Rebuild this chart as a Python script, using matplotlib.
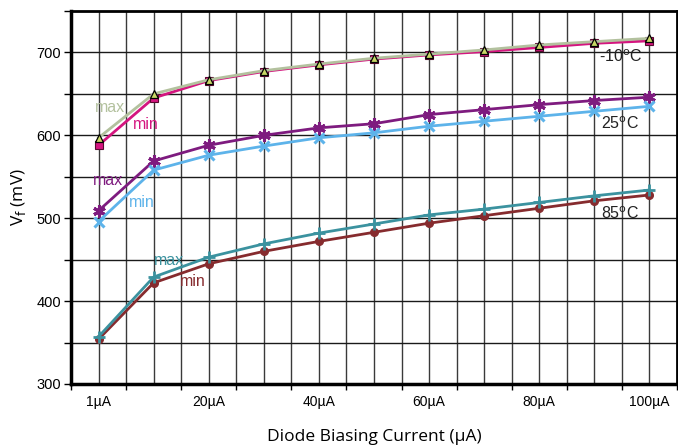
import matplotlib
matplotlib.use("Agg")
import matplotlib.pyplot as plt
import numpy as np

categories = ["1", "10", "20", "30", "40", "50", "60", "70", "80", "90", "100"]
tick_labels = ["1µA", "20µA", "40µA", "60µA", "80µA", "100µA"]
tick_cats = ["1", "20", "40", "60", "80", "100"]

m10_max = [597, 650, 667, 678, 686, 693, 698, 703, 709, 713, 717]
m10_min = [588, 645, 666, 677, 685, 692, 697, 701, 706, 711, 714]
p25_max = [509, 569, 588, 600, 609, 614, 625, 631, 637, 642, 646]
p25_min = [496, 558, 576, 587, 597, 603, 611, 617, 623, 629, 635]
t85_max = [357, 429, 453, 469, 482, 493, 504, 511, 519, 527, 534]
t85_min = [354, 422, 445, 460, 472, 483, 494, 503, 512, 521, 528]

fig = plt.figure(figsize=(6.78, 4.47), dpi=100)
ax = fig.add_axes([0.1047, 0.141, 0.8938, 0.8344])

x = np.arange(len(categories))

c_m10max = "#b3c19e"
c_m10min = "#d4157f"
c_p25max = "#7e1b7f"
c_p25min = "#5db3ea"
c_t85max = "#3b929f"
c_t85min = "#862b2e"

ax.plot(x, m10_min, color=c_m10min, lw=2, marker="s", ms=5.5,
        mfc=c_m10min, mec="#5a0a30", mew=0.8, zorder=5)
ax.plot(x, m10_max, color=c_m10max, lw=2, marker="^", ms=6,
        mfc="#c8d866", mec="black", mew=0.9, zorder=6)
ax.plot(x, p25_max, color=c_p25max, lw=2, marker=(6, 2, 0), ms=9,
        mec=c_p25max, mew=2.2, zorder=5)
ax.plot(x, p25_min, color=c_p25min, lw=2, marker="x", ms=7,
        mec=c_p25min, mew=2.2, zorder=5)
ax.plot(x, t85_min, color=c_t85min, lw=2, marker="o", ms=5.5,
        mfc=c_t85min, mec=c_t85min, zorder=5)
ax.plot(x, t85_max, color=c_t85max, lw=2, marker="+", ms=8,
        mec=c_t85max, mew=2, zorder=6)

lab_font = dict(fontsize=11.5, family="Liberation Sans")
ax.text(0.2, 633, "max", color=c_m10max, ha="center", va="center", **lab_font)
ax.text(0.85, 613, "min", color=c_m10min, ha="center", va="center", **lab_font)
ax.text(0.18, 546, "max", color=c_p25max, ha="center", va="center", **lab_font)
ax.text(0.78, 519, "min", color=c_p25min, ha="center", va="center", **lab_font)
ax.text(1.27, 449, "max", color=c_t85max, ha="center", va="center", **lab_font)
ax.text(1.72, 424, "min", color=c_t85min, ha="center", va="center", **lab_font)
ax.text(9.47, 695, r"-10$^{\mathrm{o}}$C", color="#222222", ha="center", va="center", **lab_font)
ax.text(9.47, 614, r"25$^{\mathrm{o}}$C", color="#222222", ha="center", va="center", **lab_font)
ax.text(9.47, 505, r"85$^{\mathrm{o}}$C", color="#222222", ha="center", va="center", **lab_font)

ax.set_xlim(-0.5, 10.5)
ax.set_ylim(300, 750)

ax.set_xticks([categories.index(c) for c in tick_cats])
ax.set_xticklabels(tick_labels, fontsize=10, family="Liberation Sans")
ax.set_xticks(np.arange(-0.5, 10.51, 1.0), minor=True)
ax.tick_params(axis="x", which="major", length=0, pad=8)
ax.tick_params(axis="x", which="minor", length=4, width=1, direction="out")

ax.set_yticks([300, 400, 500, 600, 700])
ax.set_yticklabels(["300", "400", "500", "600", "700"], fontsize=10.5,
                   family="Liberation Sans")
ax.set_yticks(np.arange(350, 751, 100), minor=True)
ax.tick_params(axis="y", which="both", length=5, width=1, direction="out", pad=2)

for v in np.arange(-0.5, 10.51, 0.5):
    ax.axvline(v, color="#3a3a3a", lw=1, zorder=1)
for h in np.arange(350, 750, 50):
    ax.axhline(h, color="#1a1a1a", lw=1, zorder=1)

for s in ax.spines.values():
    s.set_linewidth(2)
    s.set_color("black")
ax.spines["left"].set_linewidth(2.5)
ax.spines["bottom"].set_linewidth(2.5)

ax.set_xlabel("Diode Biasing Current (µA)", fontsize=12.5, family="Open Sans",
              labelpad=14)
ax.set_ylabel(r"V$_{\mathrm{f}}$ (mV)", fontsize=12.5, family="Open Sans", labelpad=6)

fig.savefig("out.png", dpi=100)
